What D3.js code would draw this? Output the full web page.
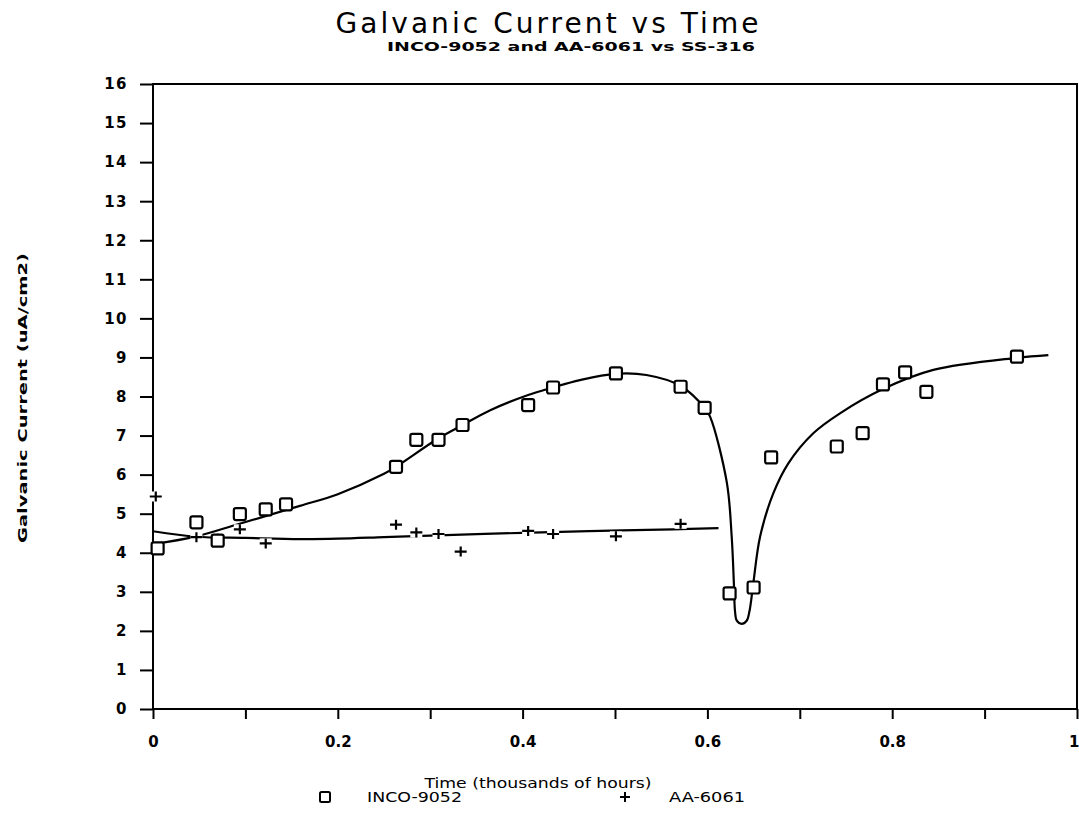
<!DOCTYPE html>
<html>
<head>
<meta charset="utf-8">
<script src="https://cdn.jsdelivr.net/npm/d3@7"></script>
<style>
  html, body { margin: 0; padding: 0; background: #fff; }
  svg { display: block; }
  text { font-family: "DejaVu Sans", sans-serif; fill: #000; }
</style>
</head>
<body>
<svg id="chart" width="1079" height="818"></svg>
<script>
// ---------- data ----------
const titleText = "Galvanic Current vs Time";
const subtitleText = "INCO-9052 and AA-6061 vs SS-316";
const xAxisTitle = "Time (thousands of hours)";
const yAxisTitle = "Galvanic Current (uA/cm2)";
const seriesNames = ["INCO-9052", "AA-6061"];

const xTickValues = [0, 0.1, 0.2, 0.3, 0.4, 0.5, 0.6, 0.7, 0.8, 0.9, 1.0];
const xTickLabels = ["0", "", "0.2", "", "0.4", "", "0.6", "", "0.8", "", "1"];
const yTickValues = [0,1,2,3,4,5,6,7,8,9,10,11,12,13,14,15,16];

// INCO-9052 measured points
const incoTime    = [0.005, 0.047, 0.070, 0.094, 0.122, 0.144, 0.263, 0.285, 0.309, 0.335, 0.406, 0.433, 0.501, 0.571, 0.597, 0.624, 0.650, 0.669, 0.740, 0.768, 0.790, 0.814, 0.837, 0.935];
const incoCurrent = [4.11, 4.78, 4.31, 4.99, 5.11, 5.24, 6.20, 6.89, 6.89, 7.27, 7.78, 8.23, 8.59, 8.25, 7.71, 2.96, 3.11, 6.44, 6.72, 7.06, 8.31, 8.62, 8.12, 9.02];

// INCO-9052 fitted curve
const incoFitTime    = [0, 0.047, 0.092, 0.159, 0.2, 0.25, 0.263, 0.309, 0.335, 0.365, 0.406, 0.4325, 0.462, 0.5, 0.534, 0.571, 0.597, 0.603, 0.621, 0.6263, 0.6288, 0.6299, 0.6318, 0.637, 0.6425, 0.6455, 0.6497, 0.657, 0.6713, 0.6876, 0.7146, 0.7435, 0.790, 0.8445, 0.9347, 0.969];
const incoFitCurrent = [4.22, 4.42, 4.73, 5.20, 5.50, 6.02, 6.20, 6.93, 7.27, 7.65, 8.04, 8.23, 8.42, 8.58, 8.55, 8.27, 7.71, 7.48, 5.80, 4.41, 3.13, 2.50, 2.26, 2.18, 2.26, 2.50, 3.22, 4.41, 5.52, 6.29, 7.06, 7.57, 8.19, 8.68, 8.99, 9.06];

// AA-6061 measured points
const aaTime    = [0.003, 0.047, 0.070, 0.094, 0.122, 0.144, 0.263, 0.285, 0.309, 0.333, 0.406, 0.433, 0.501, 0.571];
const aaCurrent = [5.44, 4.40, 4.36, 4.60, 4.24, 5.20, 4.72, 4.52, 4.48, 4.03, 4.56, 4.48, 4.42, 4.74];

// AA-6061 fitted curve
const aaFitTime    = [0, 0.047, 0.1, 0.159, 0.2, 0.25, 0.3, 0.4, 0.484, 0.563, 0.612];
const aaFitCurrent = [4.55, 4.41, 4.38, 4.35, 4.36, 4.40, 4.44, 4.51, 4.56, 4.60, 4.63];

// ---------- layout ----------
const svg = d3.select("#chart");
const plotL = 153, plotR = 1077, plotT = 84, plotB = 709;

const x = d3.scaleLinear().domain([0, 1]).range([plotL, plotR]);
const y = d3.scaleLinear().domain([0, 16]).range([plotB, plotT]);

// titles
svg.append("text")
  .attr("x", 547).attr("y", 33)
  .attr("text-anchor", "middle")
  .attr("textLength", 423).attr("lengthAdjust", "spacing")
  .style("font-size", "28px")
  .text(titleText);

svg.append("text")
  .attr("x", 571).attr("y", 51)
  .attr("text-anchor", "middle")
  .attr("textLength", 368).attr("lengthAdjust", "spacingAndGlyphs")
  .style("font-size", "13px").style("font-weight", "bold")
  .text(subtitleText);

// axes
const yAxis = d3.axisLeft(y).tickValues(yTickValues).tickSize(13).tickPadding(12).tickFormat(d3.format("d"));
const gy = svg.append("g").attr("transform", `translate(${plotL},0)`).call(yAxis);
gy.select(".domain").remove();
gy.selectAll(".tick line").attr("stroke", "#000").attr("stroke-width", 2);
gy.selectAll(".tick text").style("font-size", "15px").style("font-weight", "bold")
  .style("font-family", "DejaVu Sans").style("letter-spacing", "1.5px");

const xAxis = d3.axisBottom(x).tickValues(xTickValues).tickSize(10).tickPadding(17)
  .tickFormat((d, i) => xTickLabels[i]);
const gx = svg.append("g").attr("transform", `translate(0,${plotB})`).call(xAxis);
gx.select(".domain").remove();
gx.selectAll(".tick line").attr("stroke", "#000").attr("stroke-width", 2);
gx.selectAll(".tick text").style("font-size", "15px").style("font-weight", "bold")
  .style("font-family", "DejaVu Sans")
  .attr("text-anchor", (d, i) => i === xTickValues.length - 1 ? "end" : "middle")
  .attr("x", (d, i) => i === xTickValues.length - 1 ? 2 : 0);

// frame
svg.append("rect")
  .attr("x", plotL).attr("y", plotT)
  .attr("width", plotR - plotL).attr("height", plotB - plotT)
  .attr("fill", "none").attr("stroke", "#000").attr("stroke-width", 2);

// axis titles
svg.append("text")
  .attr("x", 538).attr("y", 788)
  .attr("text-anchor", "middle")
  .attr("textLength", 227).attr("lengthAdjust", "spacingAndGlyphs")
  .style("font-size", "14px")
  .text(xAxisTitle);

svg.append("text")
  .attr("transform", "translate(27,398) rotate(-90)")
  .attr("text-anchor", "middle")
  .attr("textLength", 290).attr("lengthAdjust", "spacingAndGlyphs")
  .style("font-size", "13px").style("font-weight", "bold")
  .text(yAxisTitle);

// fitted curves
const line = d3.line().x(d => x(d[0])).y(d => y(d[1])).curve(d3.curveCatmullRom.alpha(0.5));
const incoFit = incoFitTime.map((t, i) => [t, incoFitCurrent[i]]);
const aaFit = aaFitTime.map((t, i) => [t, aaFitCurrent[i]]);

svg.append("path").datum(aaFit).attr("d", line)
  .attr("fill", "none").attr("stroke", "#000").attr("stroke-width", 2.2);
svg.append("path").datum(incoFit).attr("d", line)
  .attr("fill", "none").attr("stroke", "#000").attr("stroke-width", 2.2);

// AA-6061 plus markers (white knockout behind)
const aaPts = aaTime.map((t, i) => [t, aaCurrent[i]]);
const gp = svg.append("g").selectAll("g").data(aaPts).join("g")
  .attr("transform", d => `translate(${x(d[0])},${y(d[1])})`);
gp.append("rect").attr("x", -6).attr("y", -5).attr("width", 12).attr("height", 10).attr("fill", "#fff");
gp.append("path").attr("d", "M-6,0H6M0,-5V5").attr("stroke", "#000").attr("stroke-width", 2.2).attr("fill", "none");

// INCO-9052 square markers
const incoPts = incoTime.map((t, i) => [t, incoCurrent[i]]);
svg.append("g").selectAll("rect").data(incoPts).join("rect")
  .attr("x", d => x(d[0]) - 6).attr("y", d => y(d[1]) - 6)
  .attr("width", 12).attr("height", 12).attr("rx", 2)
  .attr("fill", "#fff").attr("stroke", "#000").attr("stroke-width", 2.2);

// legend
const lg = svg.append("g");
lg.append("rect").attr("x", 320).attr("y", 792).attr("width", 10).attr("height", 10).attr("rx", 1.5)
  .attr("fill", "#fff").attr("stroke", "#000").attr("stroke-width", 2);
lg.append("text").attr("x", 367).attr("y", 802).attr("textLength", 95).attr("lengthAdjust", "spacingAndGlyphs")
  .style("font-size", "14px").text(seriesNames[0]);
lg.append("path").attr("d", "M620,797H630M625,792V802").attr("stroke", "#000").attr("stroke-width", 2);
lg.append("text").attr("x", 669).attr("y", 802).attr("textLength", 76).attr("lengthAdjust", "spacingAndGlyphs")
  .style("font-size", "14px").text(seriesNames[1]);
</script>
</body>
</html>
